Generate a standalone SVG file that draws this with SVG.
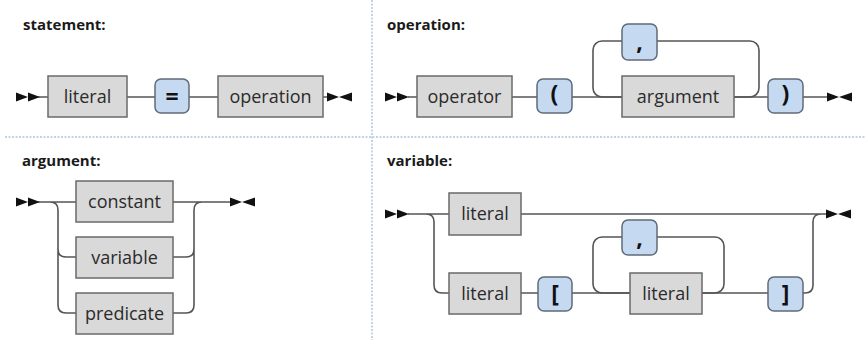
<svg xmlns="http://www.w3.org/2000/svg" width="866" height="340" viewBox="0 0 866 340">
<style>
.bg{fill:#ffffff}
.div{stroke:#a9c6e6;stroke-width:1.5;stroke-dasharray:2 1.5;fill:none}
.title{font-family:"Open Sans","Liberation Sans",sans-serif;font-weight:bold;font-size:15px;fill:#1a1a1a}
.nt rect{fill:#d9d9d9;stroke:#6a6a6a;stroke-width:1.5}
.nt text{font-family:"Open Sans","Liberation Sans",sans-serif;font-size:18px;fill:#2b2b2b;text-anchor:middle}
.t rect{fill:#c5d9f1;stroke:#5f6b78;stroke-width:1.5}
.t text{font-family:"Open Sans","Liberation Sans",sans-serif;font-weight:bold;font-size:23px;fill:#111111;text-anchor:middle}
.ln{stroke:#555555;stroke-width:1.6;fill:none}
.ah{fill:#111111}
</style>
<rect class="bg" x="0" y="0" width="866" height="340"/>
<g id="dividers">
<line class="div" x1="5" y1="137" x2="866" y2="137"/>
<line class="div" x1="372" y1="0" x2="372" y2="340"/>
</g>
<g id="titles">
<text class="title" x="23" y="30">statement:</text>
<text class="title" x="387" y="30">operation:</text>
<text class="title" x="22" y="166">argument:</text>
<text class="title" x="387" y="166">variable:</text>
</g>
<g id="connectors">
<!-- statement -->
<path class="ln" d="M38,97 H327"/>
<polygon class="ah" points="16,92.5 28,97 16,101.5"/>
<polygon class="ah" points="28,92.5 40,97 28,101.5"/>
<polygon class="ah" points="327,92.5 339,97 327,101.5"/>
<polygon class="ah" points="339,97 352,92.5 352,101.5"/>
<!-- operation -->
<path class="ln" d="M408,97 H827"/>
<rect class="ln" x="593" y="41" width="166" height="56" rx="9"/>
<polygon class="ah" points="385,92.5 397,97 385,101.5"/>
<polygon class="ah" points="397,92.5 409,97 397,101.5"/>
<polygon class="ah" points="827,92.5 839,97 827,101.5"/>
<polygon class="ah" points="839,97 852,92.5 852,101.5"/>
<!-- argument -->
<path class="ln" d="M38,202 H76 M50,202 Q58,202 58,210 V305 Q58,313 66,313 H76 M58,249 Q58,257 66,257 H76"/>
<path class="ln" d="M173,202 H230 M173,313 H186 Q194,313 194,305 V210 Q194,202 202,202 M173,257 H186 Q194,257 194,249"/>
<polygon class="ah" points="16,197.5 28,202 16,206.5"/>
<polygon class="ah" points="28,197.5 40,202 28,206.5"/>
<polygon class="ah" points="230,197.5 242,202 230,206.5"/>
<polygon class="ah" points="242,202 255,197.5 255,206.5"/>
<!-- variable -->
<path class="ln" d="M408,214 H826 M426,214 Q434,214 434,222 V285 Q434,293 442,293 H449 M521,293 H805 Q813,293 813,285 V222 Q813,214 821,214"/>
<rect class="ln" x="593" y="237" width="131" height="56" rx="9"/>
<polygon class="ah" points="385,209.5 397,214 385,218.5"/>
<polygon class="ah" points="397,209.5 409,214 397,218.5"/>
<polygon class="ah" points="826,209.5 838,214 826,218.5"/>
<polygon class="ah" points="838,214 851,209.5 851,218.5"/>
</g>
<g id="st-literal" class="nt"><rect x="48" y="76" width="79" height="41"/><text x="87.5" y="103">literal</text></g>
<g id="st-eq" class="t"><rect x="155" y="79" width="34" height="34" rx="6"/><text x="172" y="104.5">=</text></g>
<g id="st-operation" class="nt"><rect x="218" y="76" width="105" height="41"/><text x="270.5" y="103">operation</text></g>

<g id="op-operator" class="nt"><rect x="417" y="76" width="95" height="41"/><text x="464.5" y="103">operator</text></g>
<g id="op-lparen" class="t"><rect x="537" y="79" width="35" height="34" rx="6"/><text x="554.5" y="102">(</text></g>
<g id="op-comma" class="t"><rect x="622" y="24" width="35" height="36" rx="6"/><text x="639.5" y="50">,</text></g>
<g id="op-argument" class="nt"><rect x="622" y="76" width="112" height="41"/><text x="678" y="103">argument</text></g>
<g id="op-rparen" class="t"><rect x="768" y="79" width="35" height="34" rx="6"/><text x="785.5" y="102">)</text></g>

<g id="arg-constant" class="nt"><rect x="76" y="181" width="97" height="41"/><text x="124.5" y="208">constant</text></g>
<g id="arg-variable" class="nt"><rect x="76" y="237" width="97" height="41"/><text x="124.5" y="264">variable</text></g>
<g id="arg-predicate" class="nt"><rect x="76" y="293" width="97" height="41"/><text x="124.5" y="320">predicate</text></g>

<g id="var-literal1" class="nt"><rect x="449" y="193" width="72" height="42"/><text x="485" y="220">literal</text></g>
<g id="var-literal2" class="nt"><rect x="449" y="273" width="72" height="41"/><text x="485" y="300">literal</text></g>
<g id="var-lbracket" class="t"><rect x="538" y="277" width="34" height="34" rx="6"/><text x="555" y="302">[</text></g>
<g id="var-comma" class="t"><rect x="622" y="220" width="35" height="35" rx="6"/><text x="639.5" y="246">,</text></g>
<g id="var-literal3" class="nt"><rect x="630" y="273" width="72" height="41"/><text x="666" y="300">literal</text></g>
<g id="var-rbracket" class="t"><rect x="768" y="277" width="35" height="34" rx="6"/><text x="785.5" y="302">]</text></g>
</svg>
